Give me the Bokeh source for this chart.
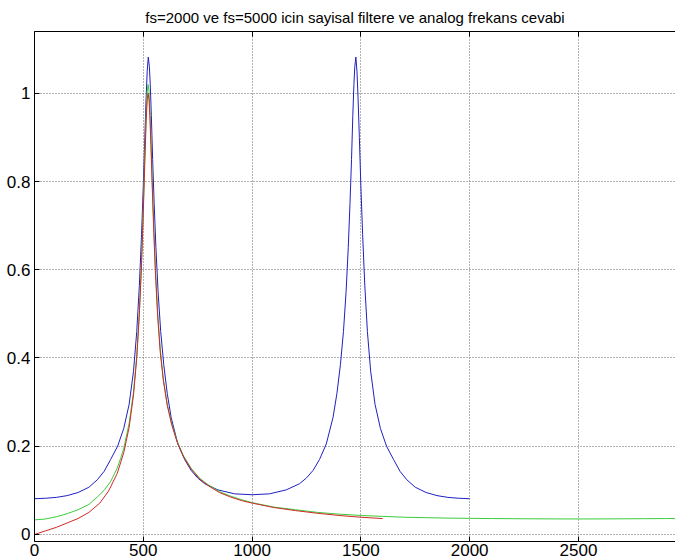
from bokeh.plotting import figure
from bokeh.models import LinearAxis, FixedTicker, Range1d
from bokeh.embed import file_html
from bokeh.resources import INLINE

TITLE = "fs=2000 ve fs=5000 icin sayisal filtere ve analog frekans cevabi"

x_ticks = [0, 500, 1000, 1500, 2000, 2500]
x_tick_labels = ["0", "500", "1000", "1500", "2000", "2500"]
y_ticks = [0, 0.2, 0.4, 0.6, 0.8, 1.0]
y_tick_labels = ["0", "0.2", "0.4", "0.6", "0.8", "1"]

# digital filter, fs = 2000 (blue)
blue_f = [0, 50, 100, 150, 200, 250, 289, 320, 350, 382, 410, 435, 455, 470, 482, 492,
          500, 507, 513, 518, 523, 528, 532, 537, 543, 550, 558, 568, 580, 594, 610,
          628, 659, 690, 720, 750, 782, 843, 920, 1000,
          1080, 1157, 1218, 1250, 1280, 1310, 1341, 1372, 1390, 1406, 1420, 1432, 1442,
          1450, 1457, 1463, 1468, 1472, 1477, 1482, 1487, 1493, 1500, 1508, 1518, 1530,
          1545, 1565, 1590, 1618, 1650, 1680, 1711, 1750, 1800, 1850, 1900, 1950, 2000]
blue_v = [0.081, 0.082, 0.084, 0.088, 0.095, 0.107, 0.124, 0.143, 0.170, 0.200, 0.240,
          0.295, 0.370, 0.460, 0.565, 0.680, 0.790, 0.900, 0.990, 1.050, 1.082, 1.060,
          1.020, 0.950, 0.850, 0.750, 0.650, 0.550, 0.460, 0.385, 0.320, 0.265, 0.205,
          0.170, 0.145, 0.128, 0.115, 0.101, 0.092, 0.090,
          0.092, 0.101, 0.115, 0.128, 0.145, 0.170, 0.205, 0.265, 0.320, 0.385, 0.460,
          0.550, 0.650, 0.750, 0.850, 0.950, 1.020, 1.060, 1.082, 1.050, 0.990, 0.900,
          0.790, 0.680, 0.565, 0.460, 0.370, 0.295, 0.240, 0.200, 0.170, 0.143, 0.124,
          0.107, 0.095, 0.088, 0.084, 0.082, 0.081]

# digital filter, fs = 5000 (green)
green_f = [0, 50, 100, 150, 200, 250, 289, 320, 351, 380, 397, 410, 435, 455, 470, 482,
           492, 500, 507, 513, 518, 522, 526, 530, 535, 541, 548, 556, 566, 578, 592,
           610, 630, 655, 685, 720, 760, 800, 850, 900, 950, 1000, 1100, 1200, 1300,
           1400, 1500, 1600, 1700, 1800, 1900, 2000, 2100, 2200, 2300, 2400, 2500,
           2600, 2700, 2800, 2900, 3000]
green_v = [0.033, 0.035, 0.040, 0.047, 0.056, 0.068, 0.085, 0.100, 0.121, 0.150, 0.174,
           0.195, 0.252, 0.323, 0.405, 0.505, 0.620, 0.740, 0.858, 0.950, 1.003, 1.020,
           1.006, 0.968, 0.898, 0.804, 0.700, 0.600, 0.503, 0.420, 0.352, 0.295, 0.252,
           0.212, 0.178, 0.150, 0.127, 0.112, 0.097, 0.087, 0.079, 0.072, 0.062, 0.056,
           0.050, 0.046, 0.043, 0.041, 0.039, 0.038, 0.037, 0.0365, 0.036, 0.0357,
           0.0354, 0.0352, 0.0351, 0.0352, 0.0354, 0.0357, 0.036, 0.0365]

# analog response (red)
red_f = [0, 50, 100, 150, 200, 250, 300, 340, 380, 410, 435, 455, 470, 482, 492, 500,
         507, 513, 518, 522, 526, 530, 535, 541, 548, 556, 566, 578, 592, 610, 630, 655,
         685, 720, 760, 800, 850, 900, 950, 1000, 1100, 1200, 1300, 1400, 1500, 1600]
red_v = [0.0, 0.008, 0.016, 0.026, 0.036, 0.050, 0.071, 0.098, 0.138, 0.185, 0.243,
         0.316, 0.400, 0.500, 0.613, 0.730, 0.845, 0.935, 0.986, 1.000, 0.987, 0.950,
         0.882, 0.790, 0.688, 0.590, 0.495, 0.413, 0.350, 0.293, 0.250, 0.210, 0.176,
         0.148, 0.125, 0.110, 0.095, 0.085, 0.077, 0.071, 0.061, 0.054, 0.048, 0.043,
         0.039, 0.036]

FONT = "Liberation Sans"

p = figure(width=675, height=558, output_backend="svg", toolbar_location=None,
           x_range=Range1d(0, 2946), y_range=Range1d(-0.016, 1.14),
           min_border_left=34, min_border_right=0, min_border_top=0,
           min_border_bottom=0, title=TITLE)
p.background_fill_color = "white"
p.border_fill_color = "white"
p.outline_line_color = None

p.title.text_font = FONT
p.title.text_font_size = "15px"
p.title.text_font_style = "normal"
p.title.text_color = "black"
p.title.align = "center"
p.title.standoff = 12

p.line(blue_f, blue_v, line_color="#2020c0", line_width=1)
p.line(green_f, green_v, line_color="#3ccc3c", line_width=1)
p.line(red_f, red_v, line_color="#d02828", line_width=1)

for ax in (p.xaxis[0], p.yaxis[0]):
    ax.axis_line_color = "black"
    ax.major_tick_line_color = "black"
    ax.major_tick_in = 5
    ax.major_tick_out = 0
    ax.minor_tick_in = 0
    ax.minor_tick_out = 0
    ax.major_label_text_font = FONT
    ax.major_label_text_font_size = "17px"
    ax.major_label_text_color = "black"

p.xaxis[0].ticker = FixedTicker(ticks=x_ticks)
p.xaxis[0].major_label_overrides = dict(zip(x_ticks, x_tick_labels))
p.xaxis[0].major_label_standoff = 2
p.yaxis[0].ticker = FixedTicker(ticks=y_ticks)
p.yaxis[0].major_label_overrides = dict(zip(y_ticks, y_tick_labels))
p.yaxis[0].major_label_standoff = 4

# top frame edge with inward ticks (minor ticks only, so no labels)
top_axis = LinearAxis(ticker=FixedTicker(ticks=[], minor_ticks=x_ticks),
                      major_tick_in=0, major_tick_out=0, minor_tick_in=5, minor_tick_out=0,
                      major_label_standoff=0, axis_line_color="black",
                      minor_tick_line_color="black")
p.add_layout(top_axis, "above")

for g in (p.xgrid[0], p.ygrid[0]):
    g.grid_line_color = "#666666"
    g.grid_line_dash = "1 2"
    g.grid_line_width = 1
p.xgrid[0].ticker = FixedTicker(ticks=x_ticks)
p.ygrid[0].ticker = FixedTicker(ticks=y_ticks)

open("out.html", "w").write(file_html(p, INLINE))
